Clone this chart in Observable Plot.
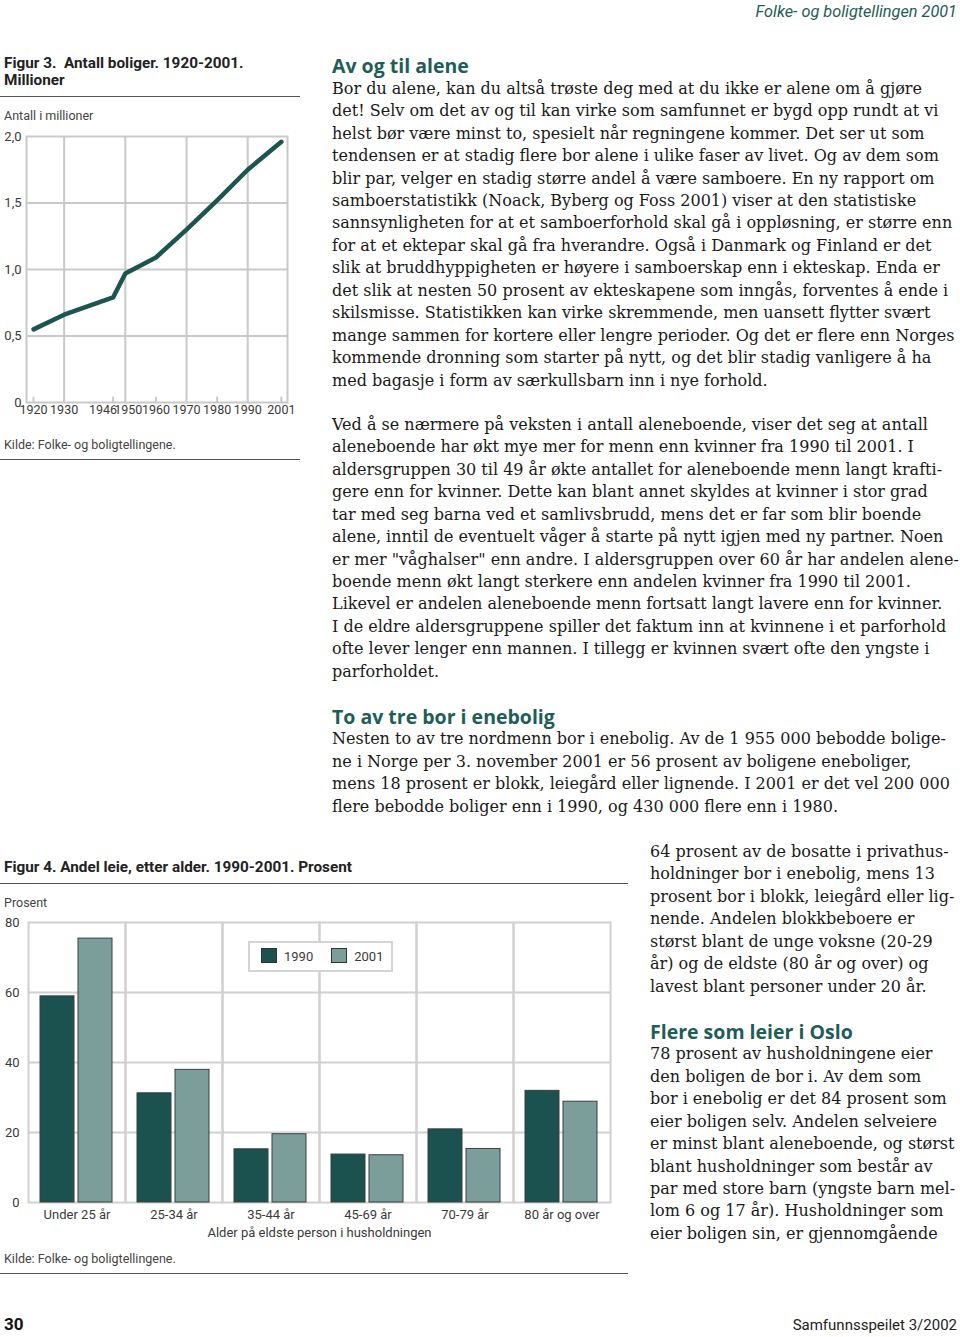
<!DOCTYPE html>
<html><head><meta charset="utf-8">
<script src="https://cdn.jsdelivr.net/npm/d3@7"></script>
<script src="https://cdn.jsdelivr.net/npm/@observablehq/plot@0.6"></script>
<style>
html,body{margin:0;padding:0;background:#fff;}
#page{position:relative;width:960px;height:1337px;overflow:hidden;font-family:Roboto,"Open Sans",sans-serif;}
.abs{position:absolute;white-space:nowrap;}
.body{font-family:"DejaVu Serif",serif;line-height:22.45px;color:#1a1a1a;}
.h{font-family:"Open Sans",sans-serif;font-weight:bold;color:#1e5d58;}
.rule{position:absolute;height:0;border-top:1.5px solid #555;}
.figtitle{font-weight:bold;font-size:15.3px;color:#222;line-height:17px;}
.small{font-size:12.5px;color:#444;line-height:16px;}
.sw{display:inline-block;width:16px;height:15px;border:1px solid #333;box-sizing:border-box;vertical-align:-2px;margin-right:7px;}
</style></head>
<body><div id="page"></div>
<script>
// ---------- data ----------
const fig3Years = [1920, 1930, 1946, 1950, 1960, 1970, 1980, 1990, 2001];
const fig3Values = [0.55, 0.66, 0.79, 0.97, 1.09, 1.30, 1.52, 1.75, 1.96];
const fig3YTicks = [0, 0.5, 1, 1.5, 2];
const fig3GridYears = [1930, 1950, 1970, 1990];
const fig3MinorYears = [1920, 1946, 1960, 1980, 2001];

const ageGroups = ["Under 25 år", "25-34 år", "35-44 år", "45-69 år", "70-79 år", "80 år og over"];
const years4 = ["1990", "2001"];
const leie1990 = [58.9, 31.2, 15.2, 13.7, 20.9, 31.9];
const leie2001 = [75.4, 37.9, 19.5, 13.5, 15.3, 28.8];
const fig4YTicks = [0, 20, 40, 60, 80];

const sec1 = ["Av og til alene",
"Bor du alene, kan du altså trøste deg med at du ikke er alene om å gjøre",
"det! Selv om det av og til kan virke som samfunnet er bygd opp rundt at vi",
"helst bør være minst to, spesielt når regningene kommer. Det ser ut som",
"tendensen er at stadig flere bor alene i ulike faser av livet. Og av dem som",
"blir par, velger en stadig større andel å være samboere. En ny rapport om",
"samboerstatistikk (Noack, Byberg og Foss 2001) viser at den statistiske",
"sannsynligheten for at et samboerforhold skal gå i oppløsning, er større enn",
"for at et ektepar skal gå fra hverandre. Også i Danmark og Finland er det",
"slik at bruddhyppigheten er høyere i samboerskap enn i ekteskap. Enda er",
"det slik at nesten 50 prosent av ekteskapene som inngås, forventes å ende i",
"skilsmisse. Statistikken kan virke skremmende, men uansett flytter svært",
"mange sammen for kortere eller lengre perioder. Og det er flere enn Norges",
"kommende dronning som starter på nytt, og det blir stadig vanligere å ha",
"med bagasje i form av særkullsbarn inn i nye forhold."];
const para2 = [
"Ved å se nærmere på veksten i antall aleneboende, viser det seg at antall",
"aleneboende har økt mye mer for menn enn kvinner fra 1990 til 2001. I",
"aldersgruppen 30 til 49 år økte antallet for aleneboende menn langt krafti-",
"gere enn for kvinner. Dette kan blant annet skyldes at kvinner i stor grad",
"tar med seg barna ved et samlivsbrudd, mens det er far som blir boende",
"alene, inntil de eventuelt våger å starte på nytt igjen med ny partner. Noen",
"er mer \"våghalser\" enn andre. I aldersgruppen over 60 år har andelen alene-",
"boende menn økt langt sterkere enn andelen kvinner fra 1990 til 2001.",
"Likevel er andelen aleneboende menn fortsatt langt lavere enn for kvinner.",
"I de eldre aldersgruppene spiller det faktum inn at kvinnene i et parforhold",
"ofte lever lenger enn mannen. I tillegg er kvinnen svært ofte den yngste i",
"parforholdet."];
const sec2 = ["To av tre bor i enebolig",
"Nesten to av tre nordmenn bor i enebolig. Av de 1 955 000 bebodde bolige-",
"ne i Norge per 3. november 2001 er 56 prosent av boligene eneboliger,",
"mens 18 prosent er blokk, leiegård eller lignende. I 2001 er det vel 200 000",
"flere bebodde boliger enn i 1990, og 430 000 flere enn i 1980."];
const para4 = [
"64 prosent av de bosatte i privathus-",
"holdninger bor i enebolig, mens 13",
"prosent bor i blokk, leiegård eller lig-",
"nende. Andelen blokkbeboere er",
"størst blant de unge voksne (20-29",
"år) og de eldste (80 år og over) og",
"lavest blant personer under 20 år."];
const sec3 = ["Flere som leier i Oslo",
"78 prosent av husholdningene eier",
"den boligen de bor i. Av dem som",
"bor i enebolig er det 84 prosent som",
"eier boligen selv. Andelen selveiere",
"er minst blant aleneboende, og størst",
"blant husholdninger som består av",
"par med store barn (yngste barn mel-",
"lom 6 og 17 år). Husholdninger som",
"eier boligen sin, er gjennomgående"];

// ---------- page helpers ----------
const page = document.getElementById("page");
function el(html, cls, style) {
  const d = document.createElement("div");
  d.className = "abs " + (cls || "");
  Object.assign(d.style, style);
  d.innerHTML = html;
  page.appendChild(d);
  return d;
}
function rule(x, y, w) { const d = document.createElement("div"); d.className = "rule"; Object.assign(d.style, {left: x + "px", top: y + "px", width: w + "px"}); page.appendChild(d); }
const esc = s => s.replace(/&/g, "&amp;").replace(/</g, "&lt;");
function fitSize(text, family, weight, target) {
  const s = document.createElement("span");
  s.style.cssText = `position:absolute;visibility:hidden;white-space:nowrap;font-family:${family};font-weight:${weight};font-size:20px`;
  s.textContent = text; document.body.appendChild(s);
  const w = s.getBoundingClientRect().width; s.remove();
  return 20 * target / w;
}
const bodySize = fitSize(sec1[7], '"DejaVu Serif"', 400, 621);
const headSize = (fitSize(sec1[0], '"Open Sans"', 700, 138) + fitSize(sec2[0], '"Open Sans"', 700, 223) + fitSize(sec3[0], '"Open Sans"', 700, 201)) / 3;
function block(lines, x, top, heading) {
  const html = lines.map((l, i) => heading && i === 0
    ? `<div class="h" style="font-size:${headSize}px">${esc(l)}</div>`
    : `<div>${esc(l)}</div>`).join("");
  el(html, "body", {left: x + "px", top: top + "px", fontSize: bodySize + "px"});
}

// header / footer
el("Folke- og boligtellingen 2001", "", {right: "3px", top: "2px", fontStyle: "italic", fontSize: "16.3px", color: "#1e5d58"});
el("30", "", {left: "4px", top: "1314px", fontWeight: "bold", fontSize: "17px", color: "#111"});
el("Samfunnsspeilet 3/2002", "", {right: "3px", top: "1316px", fontSize: "15px", color: "#222"});

// text blocks
block(sec1, 332, 55.3, true);
block(para2, 332, 413.8, false);
block(sec2, 332, 705.8, true);
block(para4, 650, 840.8, false);
block(sec3, 650, 1020.8, true);

// ---------- Figure 3 ----------
el("Figur 3.&nbsp; Antall boliger. 1920-2001.<br>Millioner", "figtitle", {left: "4px", top: "55px"});
rule(0, 96, 300);
el("Antall i millioner", "small", {left: "4px", top: "108px"});
el("Kilde: Folke- og boligtellingene.", "small", {left: "4px", top: "437px"});
rule(0, 459, 300);

const gridC = "#c9c9c9";
const fmt3 = d => d === 0 ? "0" : d.toFixed(1).replace(".", ",");
const line3 = fig3Years.map((y, i) => ({year: y, value: fig3Values[i]}));
const axisOpts = {tickSize: 0, tickPadding: 3, tickFormat: d => String(d), label: null, fontSize: 12.5};
const fig3 = Plot.plot({
  width: 300, height: 300,
  marginLeft: 26, marginRight: 13, marginTop: 10, marginBottom: 24,
  x: {domain: [1917.7, 2003]},
  y: {domain: [0, 2]},
  style: {fontFamily: "Roboto, sans-serif", fontSize: "13px", color: "#3a3a3a", background: "transparent", overflow: "visible"},
  marks: [
    Plot.gridY(fig3YTicks.slice(1, -1), {stroke: gridC, strokeOpacity: 1, strokeWidth: 2}),
    Plot.ruleX(fig3GridYears, {stroke: gridC, strokeWidth: 2}),
    Plot.ruleX(fig3MinorYears, {x: d => d, y1: 0, y2: 0.04, stroke: gridC, strokeWidth: 2}),
    Plot.frame({stroke: gridC, strokeWidth: 2}),
    Plot.axisY({ticks: fig3YTicks, tickSize: 0, tickPadding: 5, tickFormat: fmt3, label: null}),
    Plot.axisX({...axisOpts, ticks: fig3Years.filter(y => y !== 1946 && y !== 1950)}),
    Plot.axisX({...axisOpts, ticks: [fig3Years[2]], dx: -10}),
    Plot.axisX({...axisOpts, ticks: [fig3Years[3]], dx: 3}),
    Plot.line(line3, {x: "year", y: "value", stroke: "#1c5451", strokeWidth: 4.5, strokeLinejoin: "round"})
  ]
});
const w3 = document.createElement("div");
w3.className = "abs"; Object.assign(w3.style, {left: "0px", top: "126px"});
w3.appendChild(fig3); page.appendChild(w3);

// ---------- Figure 4 ----------
el("Figur 4. Andel leie, etter alder. 1990-2001. Prosent", "figtitle", {left: "4px", top: "859px"});
rule(0, 883, 628);
el("Prosent", "small", {left: "4px", top: "895px"});
el("Kilde: Folke- og boligtellingene.", "small", {left: "4px", top: "1251px"});
rule(0, 1273, 628);

const colors4 = ["#1b5250", "#7b9e9b"];
const rows = ageGroups.flatMap((a, i) => [
  {age: a, year: years4[0], value: leie1990[i]},
  {age: a, year: years4[1], value: leie2001[i]}
]);
const gridC4 = "#d0d0d0";
const fig4 = Plot.plot({
  width: 628, height: 332,
  marginLeft: 27, marginRight: 17, marginTop: 10, marginBottom: 42,
  fx: {domain: ageGroups, padding: 0},
  x: {domain: years4, paddingInner: 0.1, paddingOuter: 0.3, axis: null},
  y: {domain: [0, 80]},
  color: {domain: years4, range: colors4},
  style: {fontFamily: "Roboto, sans-serif", fontSize: "13px", color: "#3a3a3a", background: "transparent", overflow: "visible"},
  marks: [
    Plot.gridY([20, 40, 60], {stroke: gridC4, strokeOpacity: 1, strokeWidth: 2}),
    Plot.frame({stroke: gridC4, strokeWidth: 2}),
    Plot.barY(rows, {fx: "age", x: "year", y: "value", fill: "year", stroke: "#37403f", strokeWidth: 1}),
    Plot.axisY({ticks: fig4YTicks, tickSize: 0, tickPadding: 9, label: null}),
    Plot.axisFx({anchor: "bottom", tickSize: 0, tickPadding: 7, label: "Alder på eldste person i husholdningen", labelAnchor: "center", labelOffset: 34, labelArrow: false})
  ]
});
const w4 = document.createElement("div");
w4.className = "abs"; Object.assign(w4.style, {left: "0px", top: "912px"});
w4.appendChild(fig4); page.appendChild(w4);

// legend overlay
el(years4.map((y, i) => `<span style="display:inline-block;margin-right:${i ? 0 : 18}px"><span class="sw" style="background:${colors4[i]}"></span>${y}</span>`).join(""),
  "", {left: "248px", top: "941px", width: "145px", height: "31px", boxSizing: "border-box", border: "2px solid #d4d4d4", background: "#fff",
       fontSize: "13px", color: "#3a3a3a", paddingLeft: "11px", lineHeight: "27px"});
</script>
</body></html>
